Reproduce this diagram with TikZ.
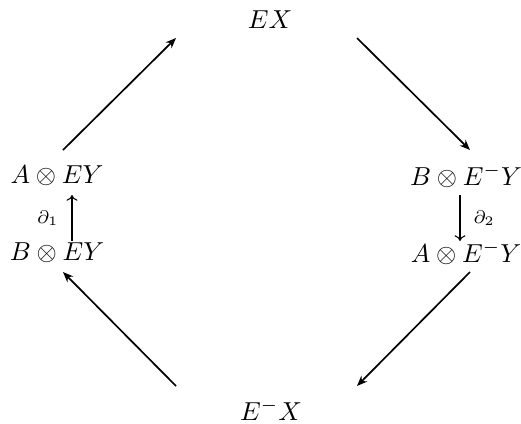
\documentclass[tikz,border=0pt]{standalone}
\usetikzlibrary{arrows.meta}
\begin{document}
\begin{tikzpicture}[x=0.3846pt,y=-0.3846pt,
  obj/.style={inner sep=0pt, anchor=center},
  diag/.style={line width=0.65pt,-{Stealth[length=4pt,width=3.2pt]}},
  vert/.style={line width=0.4pt,-{To[length=2.2pt,width=4.2pt]}},
  lab/.style={inner sep=0pt}]
\useasboundingbox (0,0) rectangle (521,423);
\node[obj] (ex) at (270,20) {$EX$};
\node[obj] (aey) at (57,176) {$A\otimes EY$};
\node[obj] (bemy) at (466,176) {$B\otimes E^{-}Y$};
\node[obj] (bey) at (57,253) {$B\otimes EY$};
\node[obj] (aemy) at (466,253) {$A\otimes E^{-}Y$};
\node[obj] (emx) at (271,410) {$E^{-}X$};
\coordinate (d1s) at (63,150);
\coordinate (d1e) at (176,38);
\coordinate (d2s) at (357,38);
\coordinate (d2e) at (470,150);
\coordinate (d3s) at (470,272);
\coordinate (d3e) at (357,386);
\coordinate (d4s) at (176,386);
\coordinate (d4e) at (63,272);
\draw[diag] (d1s) -- (d1e);
\draw[diag] (d2s) -- (d2e);
\draw[diag] (d3s) -- (d3e);
\draw[diag] (d4s) -- (d4e);
\coordinate (v1s) at (72,241);
\coordinate (v1e) at (72,195);
\coordinate (v2s) at (460,195);
\coordinate (v2e) at (460,241);
\draw[vert] (v1s) -- node[lab,left=5pt] {$\scriptstyle\partial_1$} (v1e);
\draw[vert] (v2s) -- node[lab,right=5pt] {$\scriptstyle\partial_2$} (v2e);
\end{tikzpicture}
\end{document}
